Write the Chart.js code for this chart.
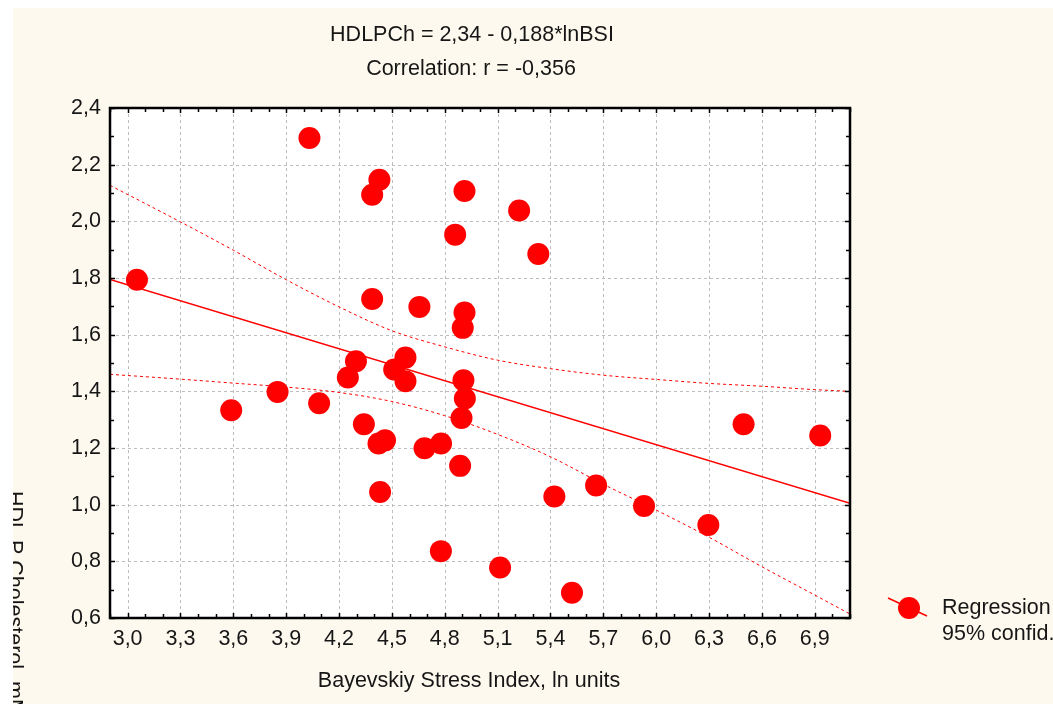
<!DOCTYPE html>
<html><head><meta charset="utf-8">
<script src="https://cdn.jsdelivr.net/npm/chart.js@4.4.0/dist/chart.umd.min.js"></script>
<style>html,body{margin:0;padding:0;background:#fff;}canvas{display:block}</style>
</head><body>
<canvas id="c" width="1053" height="704"></canvas>
<script>
// ---- data ----
const stressX = [3.053,4.032,4.429,4.388,4.912,4.859,5.222,5.331,4.388,4.656,4.912,4.902,4.296,4.250,4.577,4.513,4.577,4.906,4.914,4.895,3.851,4.087,3.588,4.341,4.461,4.424,4.779,4.685,4.887,4.433,4.778,5.114,5.522,5.422,5.659,5.931,6.296,6.496,6.931];
const hdlY    = [1.794,2.294,2.147,2.094,2.107,1.953,2.038,1.885,1.726,1.698,1.678,1.624,1.506,1.449,1.519,1.477,1.436,1.439,1.375,1.306,1.398,1.358,1.333,1.284,1.227,1.216,1.216,1.199,1.137,1.045,0.836,0.778,0.689,1.029,1.068,0.995,0.928,1.284,1.244];
const regX = [2.9, 7.1];
const regY = [1.795, 1.005];
const bandX     = [2.9,  3.3,  3.6,  3.9,  4.2,  4.5,  4.8,  5.1,  5.4,  5.7,  6.0,  6.3,  6.6,  6.9,  7.1];
const bandUpper = [2.127,1.998,1.898,1.794,1.698,1.614,1.557,1.510,1.480,1.457,1.442,1.428,1.418,1.406,1.400];
const bandLower = [1.460,1.443,1.429,1.415,1.396,1.364,1.314,1.248,1.169,1.072,0.981,0.885,0.781,0.681,0.614];
const xTicks = [3.0,3.3,3.6,3.9,4.2,4.5,4.8,5.1,5.4,5.7,6.0,6.3,6.6,6.9];
const xTickLabels = ['3,0','3,3','3,6','3,9','4,2','4,5','4,8','5,1','5,4','5,7','6,0','6,3','6,6','6,9'];
const yTicks = [0.6,0.8,1.0,1.2,1.4,1.6,1.8,2.0,2.2,2.4];
const yTickLabels = ['0,6','0,8','1,0','1,2','1,4','1,6','1,8','2,0','2,2','2,4'];
const titleLines = ['HDLPCh = 2,34 - 0,188*lnBSI', 'Correlation: r = -0,356'];
const xTitle = 'Bayevskiy Stress Index, ln units';
const yTitle = 'HDL P Cholesterol, mM';
const legendLabels = ['Regression', '95% confid.'];

const FONT = '"Liberation Sans", Arial, sans-serif';
const TXT = '#161616';
const RED = '#ff0000';
const CREAM = '#fdf9ee';

const pts = stressX.map((x,i)=>({x, y: hdlY[i]}));
const reg = regX.map((x,i)=>({x, y: regY[i]}));
const up = bandX.map((x,i)=>({x, y: bandUpper[i]}));
const lo = bandX.map((x,i)=>({x, y: bandLower[i]}));

const decor = {
  id: 'decor',
  beforeDraw(chart){
    const c = chart.ctx, a = chart.chartArea;
    c.save();
    c.fillStyle = '#fff'; c.fillRect(0,0,chart.width,chart.height);
    c.fillStyle = CREAM; c.fillRect(13,8,chart.width-13,chart.height-8);
    c.fillStyle = '#fff'; c.fillRect(a.left,a.top,a.right-a.left,a.bottom-a.top);
    // grid
    const xs = chart.scales.x, ys = chart.scales.y;
    c.strokeStyle = '#bdbdbd'; c.lineWidth = 1; c.setLineDash([3,3]);
    xTicks.forEach(v=>{ const p = Math.round(xs.getPixelForValue(v))+0.5; c.beginPath(); c.moveTo(p,a.top); c.lineTo(p,a.bottom); c.stroke(); });
    yTicks.forEach(v=>{ const p = Math.round(ys.getPixelForValue(v))+0.5; c.beginPath(); c.moveTo(a.left,p); c.lineTo(a.right,p); c.stroke(); });
    c.restore();
  },
  afterDatasetsDraw(chart){
    const c = chart.ctx, a = chart.chartArea;
    const xs = chart.scales.x, ys = chart.scales.y;
    c.save();
    c.strokeStyle = '#000'; c.lineWidth = 1.5; c.setLineDash([]);
    // minor/major ticks, inward, every 0.1
    for (let k = 29; k <= 71; k++) {
      const v = k/10; const p = Math.round(xs.getPixelForValue(v))+0.5;
      const major = xTicks.some(t=>Math.abs(t-v)<1e-6); const L = major?5:4;
      c.beginPath(); c.moveTo(p,a.bottom); c.lineTo(p,a.bottom-L); c.moveTo(p,a.top); c.lineTo(p,a.top+L); c.stroke();
    }
    for (let k = 6; k <= 24; k++) {
      const v = k/10; const p = Math.round(ys.getPixelForValue(v))+0.5;
      const major = yTicks.some(t=>Math.abs(t-v)<1e-6); const L = major?5:4;
      c.beginPath(); c.moveTo(a.left,p); c.lineTo(a.left+L,p); c.moveTo(a.right,p); c.lineTo(a.right-L,p); c.stroke();
    }
    c.lineWidth = 2.5;
    c.strokeRect(a.left, a.top, a.right-a.left, a.bottom-a.top);
    c.restore();
  },
  afterDraw(chart){
    const c = chart.ctx;
    c.save();
    c.fillStyle = TXT;
    c.font = '21.5px ' + FONT;
    c.textAlign = 'center'; c.textBaseline = 'alphabetic';
    c.fillText(titleLines[0], 472, 41);
    c.fillText(titleLines[1], 471, 75);
    c.fillText(xTitle, 469, 687);
    // y title (rotated clockwise, clipped by the panel edge)
    c.save();
    c.beginPath(); c.rect(13,8,chart.width,chart.height); c.clip();
    c.translate(8, 491); c.rotate(Math.PI/2);
    c.textAlign = 'left';
    c.fillText(yTitle, 0, 0);
    c.restore();
    // legend
    c.strokeStyle = RED; c.lineWidth = 1.5;
    c.beginPath(); c.moveTo(888,598); c.lineTo(927,616); c.stroke();
    c.fillStyle = RED; c.beginPath(); c.arc(909,608,11,0,Math.PI*2); c.fill();
    c.fillStyle = TXT; c.textAlign = 'left';
    c.fillText(legendLabels[0], 942, 614);
    c.fillText(legendLabels[1], 942, 640);
    c.restore();
  }
};

new Chart(document.getElementById('c'), {
  type: 'scatter',
  data: {
    datasets: [
      { data: pts, backgroundColor: RED, borderColor: RED, pointRadius: 11, pointHoverRadius: 11, borderWidth: 0, showLine: false, order: 0 },
      { data: reg, showLine: true, borderColor: RED, borderWidth: 1.5, pointRadius: 0, fill: false, order: 1 },
      { data: up, showLine: true, borderColor: RED, borderWidth: 1, borderDash: [3,3], pointRadius: 0, fill: false, cubicInterpolationMode: 'monotone', order: 2 },
      { data: lo, showLine: true, borderColor: RED, borderWidth: 1, borderDash: [3,3], pointRadius: 0, fill: false, cubicInterpolationMode: 'monotone', order: 2 }
    ]
  },
  options: {
    responsive: false, animation: false, devicePixelRatio: 1,
    layout: { padding: { left: 0, top: 108, right: 203, bottom: 0 } },
    plugins: { legend: { display: false }, tooltip: { enabled: false }, title: { display: false } },
    scales: {
      x: {
        type: 'linear', min: 2.9, max: 7.1,
        grid: { display: false, drawTicks: false }, border: { display: false },
        afterFit(s){ s.height = 86; },
        afterBuildTicks(s){ s.ticks = xTicks.map(v=>({value:v})); },
        ticks: { autoSkip: false, maxRotation: 0, padding: 8, color: TXT, font: { family: FONT, size: 21.5 },
          callback(v, i){ return xTickLabels[i]; } }
      },
      y: {
        type: 'linear', min: 0.6, max: 2.4,
        grid: { display: false, drawTicks: false }, border: { display: false },
        afterFit(s){ s.width = 110; },
        afterBuildTicks(s){ s.ticks = yTicks.map(v=>({value:v})); },
        ticks: { autoSkip: false, padding: 9, color: TXT, font: { family: FONT, size: 21.5 },
          callback(v, i){ return yTickLabels[i]; } }
      }
    }
  },
  plugins: [decor]
});
</script>
</body></html>
